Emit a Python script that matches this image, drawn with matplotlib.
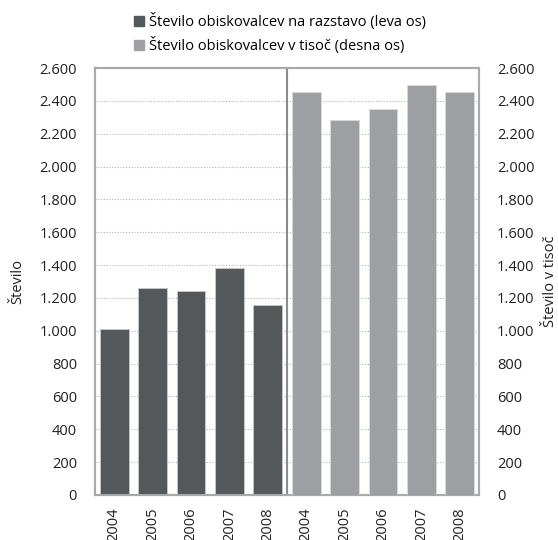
import matplotlib
matplotlib.use("Agg")
import matplotlib.pyplot as plt
from matplotlib.lines import Line2D
from matplotlib.ticker import FuncFormatter

plt.rcParams['font.family'] = ['Open Sans', 'DejaVu Sans']

# ---- data ----
years = ['2004', '2005', '2006', '2007', '2008']
visitors_left = [1010, 1260, 1240, 1380, 1155]       # leva os
visitors_thousand = [2455, 2282, 2352, 2498, 2455]   # desna os
label_left = 'Število obiskovalcev na razstavo (leva os)'
label_right = 'Število obiskovalcev v tisoč (desna os)'
ylabel_left = 'Število'
ylabel_right = 'Število v tisoč'

dark = '#54585a'
light = '#9d9fa2'
frame = '#a7a9ac'

fig = plt.figure(figsize=(5.58, 5.40), dpi=100)
ax = fig.add_axes([95 / 558, 45 / 540, 384 / 558, 427 / 540])
ax2 = ax.twinx()

n = len(years)
pos_left = list(range(n))
pos_right = list(range(n, 2 * n))

ax.bar(pos_left, visitors_left, width=0.75, color=dark, edgecolor='#c8c9cb',
       linewidth=0.6, zorder=3)
ax2.bar(pos_right, visitors_thousand, width=0.75, color=light, edgecolor='#d9dadb',
        linewidth=0.6, zorder=3)

for a in (ax, ax2):
    a.set_ylim(0, 2600)
    a.set_xlim(-0.5, 2 * n - 0.5)
    a.set_yticks(range(0, 2601, 200))
    a.yaxis.set_major_formatter(FuncFormatter(lambda v, p: f'{int(v):,}'.replace(',', '.')))
    a.tick_params(axis='y', length=0, labelsize=10.5, colors='#231f20', pad=13)
    for s in a.spines.values():
        s.set_color(frame)
        s.set_linewidth(1.5)

ax.yaxis.grid(True, linestyle=(0, (1, 1.5)), color='#b5b6b8', linewidth=0.8, zorder=0)
ax.set_axisbelow(True)
ax.axvline(n - 0.5, color='#8a8c8f', linewidth=1.5, zorder=4)

ax.set_xticks(pos_left + pos_right)
ax.set_xticklabels(years + years, rotation=90)
ax.tick_params(axis='x', length=0, labelsize=10.5, colors='#231f20', pad=9)

ax.set_ylabel(ylabel_left, fontsize=10.5, color='#231f20', labelpad=10)
ax2.set_ylabel(ylabel_right, fontsize=10.5, color='#231f20', labelpad=6)

handles = [Line2D([], [], marker='s', linestyle='none', color=dark, markersize=7),
           Line2D([], [], marker='s', linestyle='none', color=light, markersize=7)]
fig.legend(handles, [label_left, label_right], loc='upper center',
           bbox_to_anchor=(0.5, 1.0), frameon=False, fontsize=10.5,
           handletextpad=0.2, labelspacing=0.45, handlelength=1.0)

fig.savefig('out.png', dpi=100)
